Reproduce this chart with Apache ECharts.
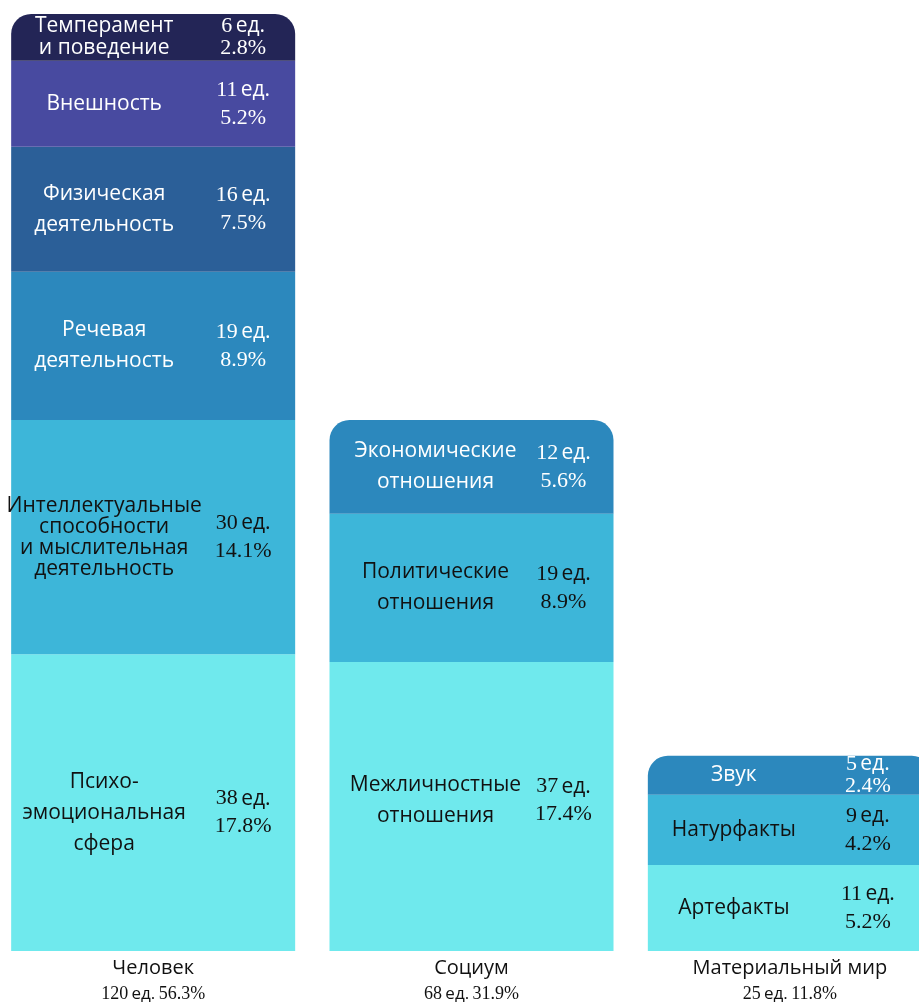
<!DOCTYPE html>
<html>
<head>
<meta charset="utf-8">
<script src="https://cdn.jsdelivr.net/npm/echarts@6/dist/echarts.min.js"></script>
<style>
	html, body { margin: 0; padding: 0; background: #ffffff; overflow: hidden; }
	#chart { width: 955px; height: 1003px; margin-left: -6px; }
</style>
</head>
<body>
<div id="chart"></div>
<script>
// Data
const categories = ['Человек', 'Социум', 'Материальный мир'];
const categoryTotals = [120, 68, 25];
const categoryPct = ['56.3', '31.9', '11.8'];

// levels, bottom to top
const level0Names = ['Психо-\nэмоциональная\nсфера', 'Межличностные\nотношения', 'Артефакты'];
const level0Values = [38, 37, 11];
const level0Pct = ['17.8', '17.4', '5.2'];

const level1Names = ['Интеллектуальные\nспособности\nи мыслительная\nдеятельность', 'Политические\nотношения', 'Натурфакты'];
const level1Values = [30, 19, 9];
const level1Pct = ['14.1', '8.9', '4.2'];

const level2Names = ['Речевая\nдеятельность', 'Экономические\nотношения', 'Звук'];
const level2Values = [19, 12, 5];
const level2Pct = ['8.9', '5.6', '2.4'];

const level3Names = ['Физическая\nдеятельность', null, null];
const level3Values = [16, '-', '-'];
const level3Pct = ['7.5', null, null];

const level4Names = ['Внешность', null, null];
const level4Values = [11, '-', '-'];
const level4Pct = ['5.2', null, null];

const level5Names = ['Темперамент\nи поведение', null, null];
const level5Values = [6, '-', '-'];
const level5Pct = ['2.8', null, null];

const levels = [
	{ names: level0Names, values: level0Values, pct: level0Pct },
	{ names: level1Names, values: level1Values, pct: level1Pct },
	{ names: level2Names, values: level2Values, pct: level2Pct },
	{ names: level3Names, values: level3Values, pct: level3Pct },
	{ names: level4Names, values: level4Values, pct: level4Pct },
	{ names: level5Names, values: level5Values, pct: level5Pct }
];

// Styles
const levelColors = ['#6fe9ed', '#3db6d9', '#2c88bd', '#2b5f98', '#484aa0', '#232556'];
const levelText = ['#111111', '#111111', '#ffffff', '#ffffff', '#ffffff', '#ffffff'];
const nameOffsetX = [-49, -36, -56];
const valueOffsetX = [90, 92, 78];
// small vertical nudges for the bottom level labels, per bar
const bottomOffsetY = [10, -6, 0];
const sansFont = '"Open Sans", "Noto Sans", sans-serif';
const serifFont = '"Liberation Serif", "DejaVu Serif", serif';

// top level for each category (rounded corners)
let topLevel = categories.map((c, i) => {
	let top = 0;
	levels.forEach((lv, li) => { if (lv.values[i] !== '-') { top = li; } });
	return top;
});

let series = [];

levels.forEach((lv, li) => {
	let nameData = lv.values.map((v, i) => {
		if (v === '-') { return '-'; };
		let lines = lv.names[i].split('\n').length;
		let lh = (v <= 6) ? 22 : (lines > 3 ? 21 : 31);
		let dy = (li === 0) ? bottomOffsetY[i] : 0;
		return {
			value: v,
			itemStyle: {
				borderRadius: (topLevel[i] === li) ? [20, 20, 0, 0] : 0
			},
			label: {
				offset: [nameOffsetX[i], dy],
				lineHeight: lh
			}
		};
	});

	let valueData = lv.values.map((v, i) => {
		if (v === '-') { return '-'; };
		let lh = (v <= 6) ? 22 : 28;
		let dy = (li === 0) ? bottomOffsetY[i] : 0;
		return {
			value: v,
			label: {
				offset: [valueOffsetX[i], dy],
				rich: {
					n: { fontFamily: serifFont, fontSize: 22, color: levelText[li], lineHeight: lh },
					u: { fontFamily: sansFont, fontSize: 21, color: levelText[li], lineHeight: lh },
					p: { fontFamily: serifFont, fontSize: 22, color: levelText[li], lineHeight: lh }
				}
			}
		};
	});

	series.push({
		name: 'level' + li,
		type: 'bar',
		stack: 'names',
		xAxisIndex: 0,
		barWidth: 284,
		data: nameData,
		itemStyle: { color: levelColors[li] },
		label: {
			show: true,
			position: 'inside',
			color: levelText[li],
			fontFamily: sansFont,
			fontSize: 21,
			align: 'center',
			formatter: (p) => lv.names[p.dataIndex]
		},
		silent: true
	});

	series.push({
		name: 'value' + li,
		type: 'bar',
		stack: 'values',
		xAxisIndex: 1,
		barWidth: 284,
		data: valueData,
		itemStyle: { color: 'rgba(0,0,0,0)' },
		label: {
			show: true,
			position: 'inside',
			align: 'center',
			formatter: (p) => '{n|' + lv.values[p.dataIndex] + '} {u|ед.}\n{p|' + lv.pct[p.dataIndex] + '%}'
		},
		silent: true
	});
});

let chart = echarts.init(document.getElementById('chart'), null, { renderer: 'canvas' });

chart.setOption({
	backgroundColor: '#ffffff',
	animation: false,
	grid: {
		left: 0,
		right: 0,
		top: 14,
		bottom: 52,
		containLabel: false
	},
	xAxis: [
		{
			type: 'category',
			data: categories,
			axisLine: { show: false },
			axisTick: { show: false },
			axisLabel: {
				margin: 4,
				interval: 0,
				formatter: (val, idx) => '{a|' + val + '}\n{b|' + categoryTotals[idx] + '} {c|ед.} {b|' + categoryPct[idx] + '%}',
				rich: {
					a: { fontFamily: sansFont, fontSize: 20, color: '#111111', lineHeight: 26 },
					b: { fontFamily: serifFont, fontSize: 18, color: '#111111', lineHeight: 26 },
					c: { fontFamily: sansFont, fontSize: 17, color: '#111111', lineHeight: 26 }
				}
			}
		},
		{
			type: 'category',
			data: categories,
			show: false
		}
	],
	yAxis: {
		type: 'value',
		min: 0,
		max: 120,
		show: false,
		splitLine: { show: false }
	},
	series: series
});
</script>
</body>
</html>
